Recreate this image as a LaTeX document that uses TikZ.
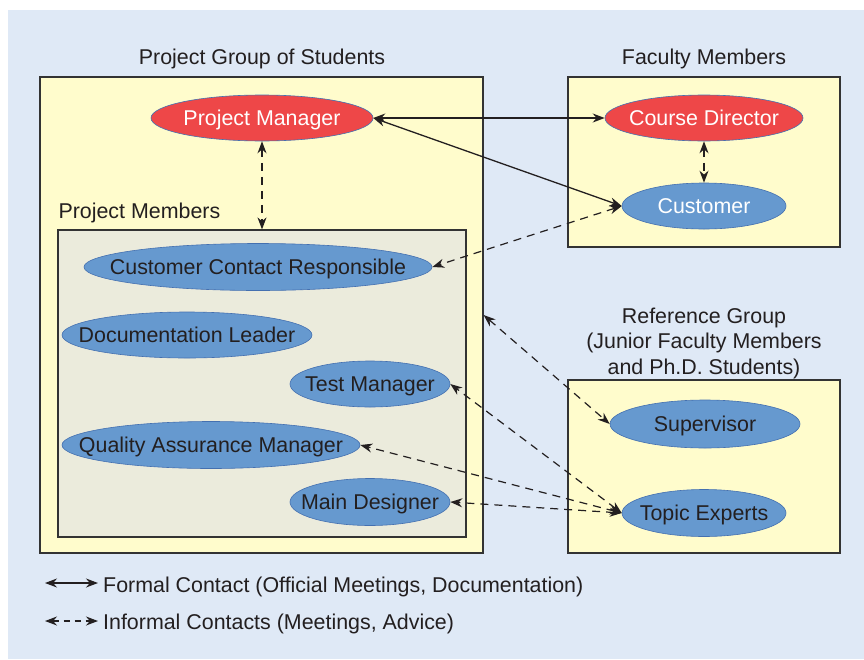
\documentclass[tikz,border=0pt]{standalone}
\usepackage{fontspec}
\setmainfont{Liberation Sans}
\usetikzlibrary{arrows.meta,shapes.geometric}
\definecolor{bgblue}{HTML}{DFE9F6}
\definecolor{paleyellow}{HTML}{FFFCCC}
\definecolor{palegray}{HTML}{EBEBDC}
\definecolor{leadred}{HTML}{EE4748}
\definecolor{roleblue}{HTML}{6699CF}
\definecolor{rimblue}{HTML}{4470B0}
\definecolor{boxline}{HTML}{333333}
\definecolor{ink}{HTML}{231F20}

\begin{document}
\begin{tikzpicture}[x=1pt, y=-1pt, >={Stealth[length=12pt, width=9pt]},
  font=\fontsize{21.4}{25.5}\selectfont,
  box/.style={draw=boxline, line width=1.2pt, inner sep=0pt},
  caption/.style={text=ink, text height=15pt, text depth=0pt},
  role/.style={ellipse, draw=rimblue, line width=0.6pt, fill=roleblue, text=ink, inner sep=0pt,
    text height=15pt, text depth=0pt,
    execute at begin node={\hbox to 0pt\bgroup\hss}, execute at end node={\hss\egroup}},
  lead/.style={role, fill=leadred, text=white},
  formal/.style={<->, line width=1.3pt, draw=ink},
  informal/.style={<->, line width=1.2pt, draw=ink, dash pattern=on 8pt off 6pt}]

% Canvas and background
\useasboundingbox (0,0) rectangle (864,659);
\fill[bgblue] (8,10) rectangle (864,659);

% Group boxes
\node[box, fill=paleyellow, minimum width=443, minimum height=476] (group) at (261.5,315) {};
\node[box, fill=palegray, minimum width=408, minimum height=307] (members) at (262,383.5) {};
\node[box, fill=paleyellow, minimum width=272, minimum height=170] (faculty) at (704,162) {};
\node[box, fill=paleyellow, minimum width=272, minimum height=173] (refgrp) at (704,466.5) {};

% Group titles
\node[caption] (grouplab) at (262,57) {Project Group of Students};
\node[caption] (facultylab) at (704,57) {Faculty Members};
\node[text=ink, align=center] (reflab) at (704,343) {Reference Group\\(Junior Faculty Members\\and Ph.D. Students)};
\node[caption, anchor=west] (memberslab) at (55,211) {Project Members};

% Roles
\node[lead, minimum width=222, minimum height=46] (pm) at (262,118) {Project Manager};
\node[lead, minimum width=198, minimum height=46] (cd) at (704,118) {Course Director};
\node[role, text=white, minimum width=164, minimum height=46] (cust) at (704,206) {Customer};
\node[role, minimum width=348, minimum height=47] (ccr) at (258,267) {Customer Contact Responsible};
\node[role, minimum width=250, minimum height=46] (doc) at (187,335) {Documentation Leader};
\node[role, minimum width=160, minimum height=46] (test) at (370,384) {Test Manager};
\node[role, minimum width=298, minimum height=47] (qa) at (211,445) {Quality Assurance Manager};
\node[role, minimum width=160, minimum height=47] (md) at (370,502) {Main Designer};
\node[role, minimum width=190, minimum height=48] (sup) at (705,424) {Supervisor};
\node[role, minimum width=164, minimum height=47] (topic) at (704,513) {Topic Experts};

% Formal contacts
\draw[formal] (pm.east) -- (cd.west);
\draw[formal] (pm.east) -- (cust.west);

% Informal contacts
\draw[informal] (pm.south) -- (members.north);
\draw[informal] (cd.south) -- (cust.north);
\draw[informal] (cust.west) -- (ccr.east);
\draw[informal] (group.east) -- (sup.west);
\draw[informal] (topic.west) -- (test.east);
\draw[informal] (topic.west) -- (qa.east);
\draw[informal] (topic.west) -- (md.east);

% Legend
\coordinate (formA) at (45,583);
\coordinate (formB) at (98,583);
\coordinate (infA) at (45,621);
\coordinate (infB) at (98,621);
\draw[formal, line width=1.1pt] (formA) -- (formB);
\draw[informal, dash pattern=on 6pt off 5pt] (infA) -- (infB);
\node[caption, anchor=west, inner sep=0pt] (formlab) at (103,584.5) {Formal Contact (Official Meetings, Documentation)};
\node[caption, anchor=west, inner sep=0pt] (inflab) at (103,622) {Informal Contacts (Meetings, Advice)};

\end{tikzpicture}
\end{document}
